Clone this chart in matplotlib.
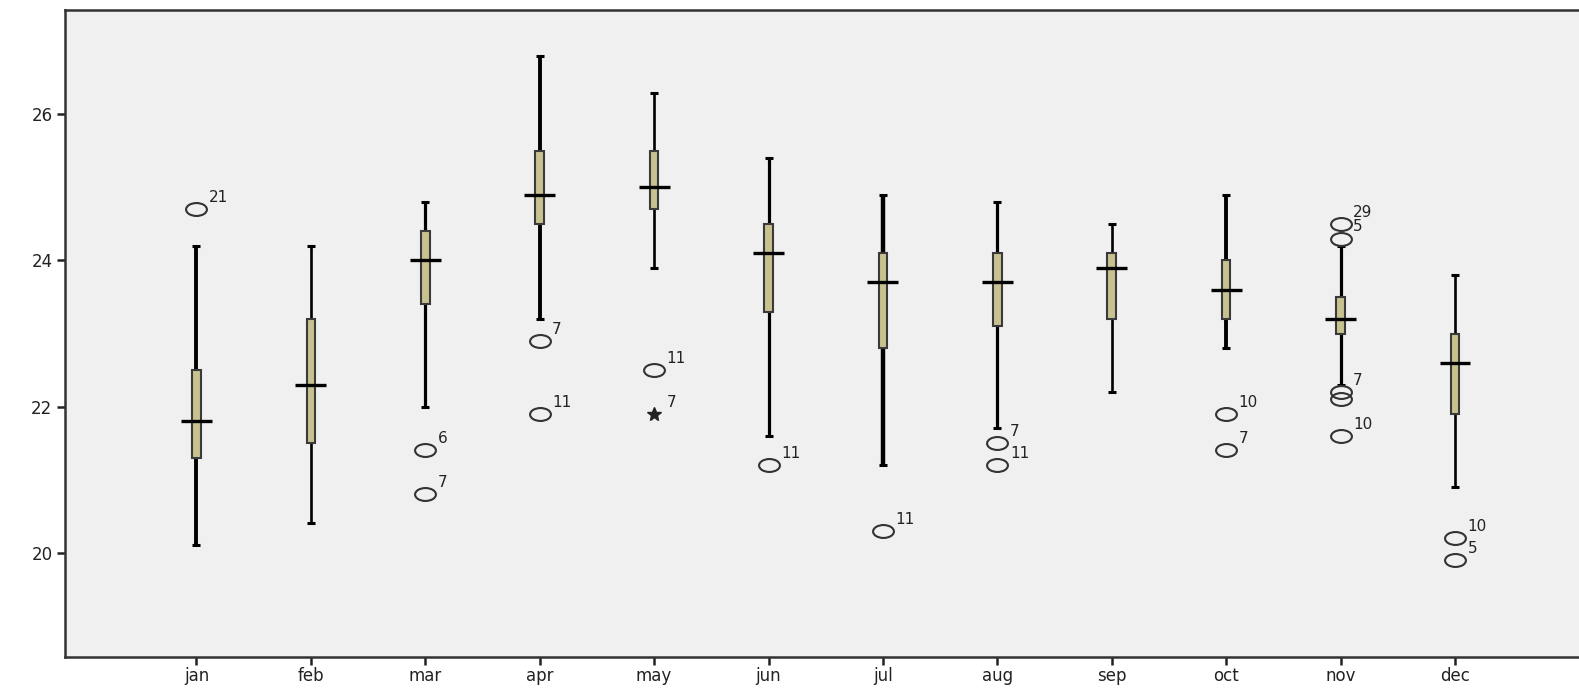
import matplotlib.pyplot as plt
from matplotlib.path import Path
from matplotlib.transforms import Affine2D

plt.rcParams['font.family'] = ['DejaVu Sans']

months = ["jan", "feb", "mar", "apr", "may", "jun", "jul", "aug", "sep", "oct", "nov", "dec"]
whis_lo = [20.1, 20.4, 22.0, 23.2, 23.9, 21.6, 21.2, 21.7, 22.2, 22.8, 22.3, 20.9]
q1 = [21.3, 21.5, 23.4, 24.5, 24.7, 23.3, 22.8, 23.1, 23.2, 23.2, 23.0, 21.9]
median = [21.8, 22.3, 24.0, 24.9, 25.0, 24.1, 23.7, 23.7, 23.9, 23.6, 23.2, 22.6]
q3 = [22.5, 23.2, 24.4, 25.5, 25.5, 24.5, 24.1, 24.1, 24.1, 24.0, 23.5, 23.0]
whis_hi = [24.2, 24.2, 24.8, 26.8, 26.3, 25.4, 24.9, 24.8, 24.5, 24.9, 24.2, 23.8]
# line weight of each whisker (points)
whis_lw = [2.8, 1.9, 2.3, 2.8, 1.9, 2.3, 3.2, 2.3, 1.9, 2.8, 2.3, 1.9]

# outliers: (month index, value, case label)
out_month = [0, 2, 2, 3, 3, 4, 5, 6, 7, 7, 9, 9, 10, 10, 10, 10, 10, 11, 11]
out_value = [24.7, 21.4, 20.8, 22.9, 21.9, 22.5, 21.2, 20.3, 21.5, 21.2, 21.9, 21.4,
             24.5, 24.3, 22.2, 22.1, 21.6, 20.2, 19.9]
out_label = ["21", "6", "7", "7", "11", "11", "11", "11", "7", "11", "10", "7",
             "29", "5", "7", "", "10", "10", "5"]

# extreme values (star marker)
ext_month = [4]
ext_value = [21.9]
ext_label = ["7"]

# flattened circle for the outlier marker
oval = Path.unit_circle().transformed(Affine2D().scale(1.0, 0.62))

fig = plt.figure(figsize=(15.79, 6.9), dpi=100)
ax = fig.add_axes([65 / 1579, 33 / 690, 1 - 65 / 1579, 647 / 690])
ax.set_facecolor('#f0f0f0')

x = list(range(1, len(months) + 1))
edge = '#3a3a3a'

ax.vlines(x, whis_lo, q1, colors='black', linewidth=whis_lw, zorder=2)
ax.vlines(x, q3, whis_hi, colors='black', linewidth=whis_lw, zorder=2)
ax.hlines(whis_lo, [i - 0.035 for i in x], [i + 0.035 for i in x], colors='black', linewidth=2.2, zorder=2)
ax.hlines(whis_hi, [i - 0.035 for i in x], [i + 0.035 for i in x], colors='black', linewidth=2.2, zorder=2)
ax.bar(x, [b - a for a, b in zip(q1, q3)], bottom=q1, width=0.075,
       color='#c8c290', edgecolor=edge, linewidth=1.5, zorder=3)
ax.hlines(median, [i - 0.135 for i in x], [i + 0.135 for i in x], colors='black', linewidth=2.4, zorder=4)

ox = [x[m] for m in out_month]
ax.plot(ox, out_value, linestyle='none', marker=oval, markersize=15, markerfacecolor='none',
        markeredgecolor='#333333', markeredgewidth=1.5, zorder=5)
for xi, v, lab in zip(ox, out_value, out_label):
    ax.annotate(lab, (xi, v), xytext=(9, 3), textcoords='offset points',
                ha='left', va='bottom', fontsize=11, color='#222222')

ex = [x[m] for m in ext_month]
ax.plot(ex, ext_value, linestyle='none', marker='*', markersize=10, color='#222222', zorder=5)
for xi, v, lab in zip(ex, ext_value, ext_label):
    ax.annotate(lab, (xi, v), xytext=(9, 3), textcoords='offset points',
                ha='left', va='bottom', fontsize=11, color='#222222')

ax.set_xlim(1 - 1.149, 12 + 1.084)
ax.set_ylim(18.57, 27.43)
ax.set_yticks([20, 22, 24, 26])
ax.set_xticks(x)
ax.set_xticklabels(months)
ax.tick_params(axis='both', direction='out', length=6, width=1.8, labelsize=12, colors='#222222')
ax.tick_params(axis='x', pad=1)
ax.tick_params(axis='y', pad=3)

ax.spines['right'].set_visible(False)
for side in ['left', 'bottom', 'top']:
    ax.spines[side].set_linewidth(1.8)
    ax.spines[side].set_color('#333333')

fig.savefig('out.png', dpi=100)
